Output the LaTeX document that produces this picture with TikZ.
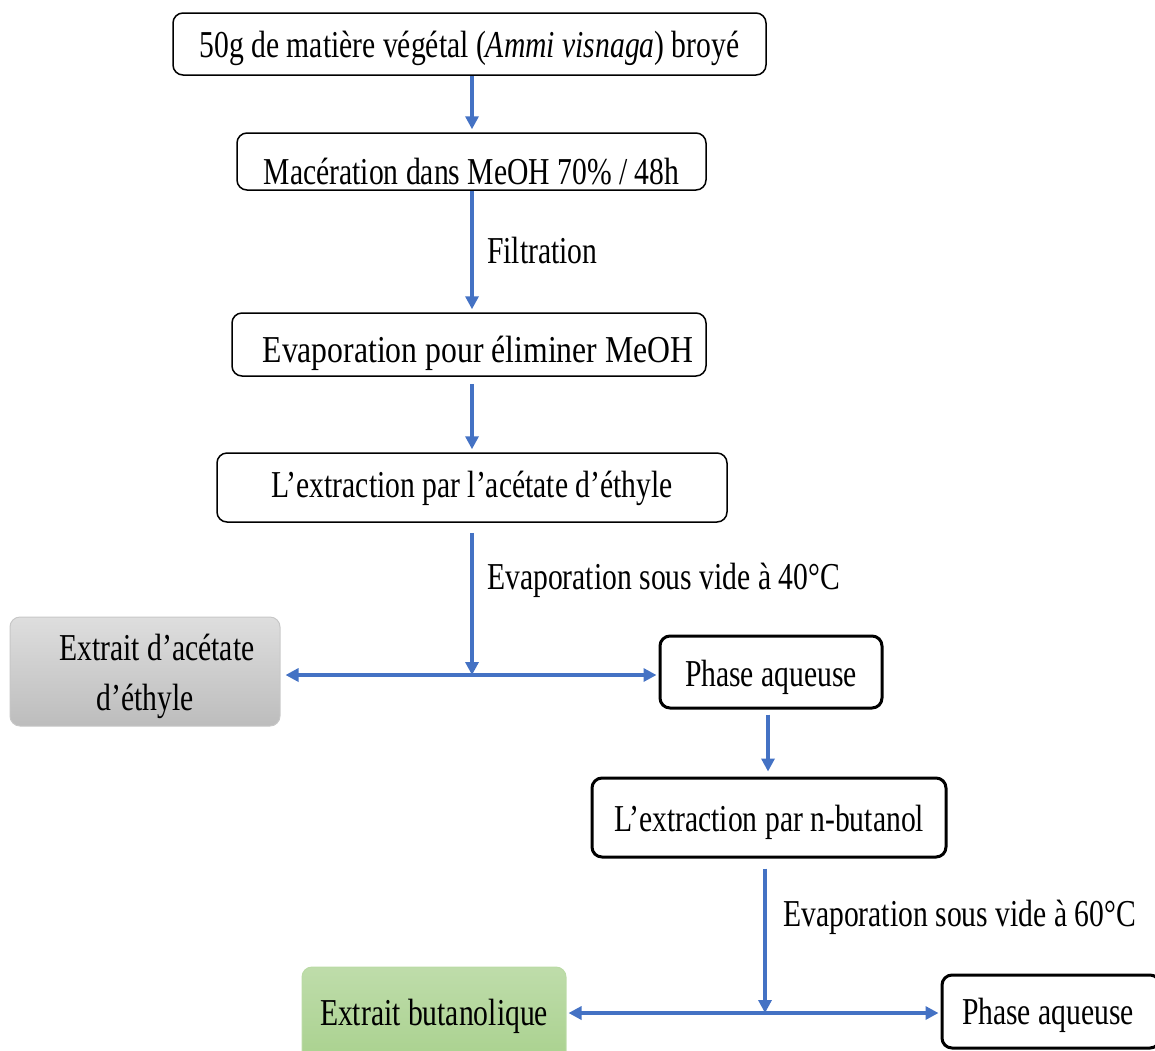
\documentclass[tikz,border=0pt]{standalone}
\usepackage{fontspec}
\setmainfont[FakeStretch=0.78]{Liberation Serif}
\usepackage{xcolor}
\usepackage{tikz}
\usetikzlibrary{arrows.meta}

\definecolor{flowblue}{HTML}{4472C4}
\definecolor{greenfill}{HTML}{A9D18E}
\newcommand{\lowered}[2]{\raisebox{-#1}[\height][\depth]{#2}}

\begin{document}
\begin{tikzpicture}[
            x=1pt, y=-1pt,
            every node/.style={font=\fontsize{38}{50}\selectfont},
            box/.style={draw, rounded corners=10pt, line width=1.5pt, inner sep=0pt},
            thickbox/.style={box, line width=3pt},
            flow/.style={draw=flowblue, line width=4pt, -{Triangle[length=13pt,width=13pt]}},
            lbl/.style={anchor=west, inner sep=0pt}
        ]
        \useasboundingbox (0,0) rectangle (1155,1050);
        \clip (0,0) rectangle (1155,1050);

        \node[box, minimum width=593pt, minimum height=62pt] (plant) at (469.5,44) {\lowered{4pt}{50g de matière végétal (\textit{Ammi visnaga}) broyé}};
        \node[box, minimum width=469pt, minimum height=57pt] (macer) at (471.5,161.5) {\lowered{10pt}{Macération dans MeOH 70\% / 48h}};
        \node[box, minimum width=474pt, minimum height=63pt] (evap) at (469,344.5) {\lowered{9pt}{\hspace*{18pt}\scalebox{1.07}[1]{Evaporation pour éliminer MeOH}}};
        \node[box, minimum width=510pt, minimum height=69pt] (acet) at (472,487.5) {\lowered{1pt}{L’extraction par l’acétate d’éthyle}};

        \node[box, draw=black!22, line width=1pt, top color=black!13, bottom color=black!26,
              minimum width=270pt, minimum height=109pt, align=center] (extacet) at (145,671.5) {\lowered{5pt}{\hspace*{24pt}Extrait d’acétate}\\\lowered{5pt}{d’éthyle}};
        \node[thickbox, minimum width=222pt, minimum height=72pt] (aq1) at (771,672) {\lowered{5pt}{Phase aqueuse}};
        \node[thickbox, minimum width=354pt, minimum height=79pt] (butan) at (769,817.5) {\lowered{5pt}{L’extraction par n-butanol}};

        \node[box, draw=greenfill!80!white, line width=1pt, top color=greenfill!75!white, bottom color=greenfill,
              minimum width=264pt, minimum height=96pt] (extbut) at (434,1015) {\lowered{1pt}{Extrait butanolique}};
        \node[thickbox, minimum width=218pt, minimum height=73pt] (aq2) at (1051,1011.5) {\lowered{4pt}{\hspace*{-6pt}Phase aqueuse}};

        \coordinate (split1) at (472,675);
        \coordinate (split2) at (765,1013);

        \draw[flow, shorten >=3pt] (plant.south -| split1) -- (macer.north -| split1);
        \draw[flow, shorten >=3pt] (macer.south -| split1) -- (evap.north -| split1);
        \draw[flow, shorten <=7pt, shorten >=3pt] (evap.south -| split1) -- (acet.north -| split1);
        \draw[flow, shorten <=10pt] (acet.south -| split1) -- (split1);
        \draw[flow, shorten >=5pt] (split1) -- (split1 -| extacet.east);
        \draw[flow, shorten >=2pt] (split1) -- (split1 -| aq1.west);

        \draw[flow, shorten <=5pt, shorten >=5pt] (aq1.south -| 768,0) -- (butan.north -| 768,0);
        \draw[flow, shorten <=10pt] (butan.south -| split2) -- (split2);
        \draw[flow, shorten >=2pt] (split2) -- (split2 -| extbut.east);
        \draw[flow, shorten >=2pt] (split2) -- (split2 -| aq2.west);

        \node[lbl] (filt) at (487,250) {Filtration};
        \node[lbl] (vide40) at (487,580) {Evaporation sous vide à 40°C};
        \node[lbl] (vide60) at (783,917) {Evaporation sous vide à 60°C};
    \end{tikzpicture}
\end{document}
